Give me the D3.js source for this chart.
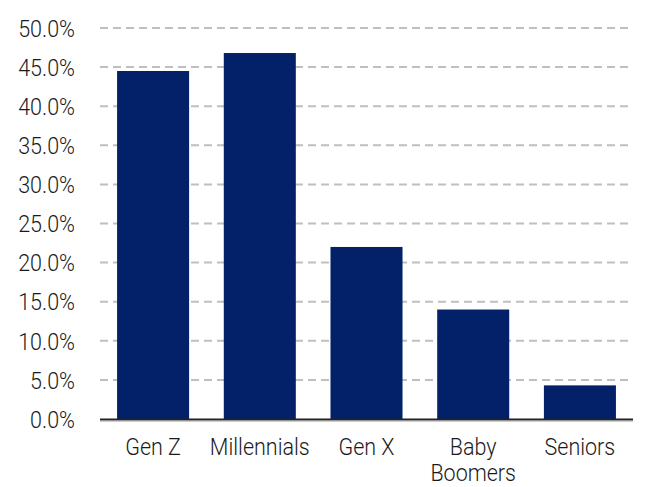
<!DOCTYPE html>
<html><head><meta charset="utf-8">
<script src="https://cdn.jsdelivr.net/npm/d3@7"></script>
<style>body{margin:0;background:#fff}svg{display:block}text{font-family:Roboto,"Liberation Sans",sans-serif;font-weight:300;fill:#1a1a1a}</style>
</head><body><svg id="c" width="646" height="487"></svg>
<script>
const categories = ["Gen Z","Millennials","Gen X","Baby Boomers","Seniors"];
const labelLines = [["Gen Z"],["Millennials"],["Gen X"],["Baby","Boomers"],["Seniors"]];
const values = [44.5, 46.8, 22.0, 14.0, 4.3];
const yTicks = [0,5,10,15,20,25,30,35,40,45,50];

const svg = d3.select("#c");
const m = {l:100, r:13, t:28, b:68};
const W = 646, H = 487;
const SX = 0.935, FS = 23;
const x = d3.scaleBand().domain(categories).range([m.l, W-m.r]).paddingInner(0.325).paddingOuter(0.16);
const y = d3.scaleLinear().domain([0,50]).range([H-m.b, m.t]);

svg.append("g").selectAll("line").data(yTicks.filter(d=>d>0)).join("line")
  .attr("x1", m.l).attr("x2", W-m.r)
  .attr("y1", d=>y(d)).attr("y2", d=>y(d))
  .attr("stroke", "#bfbfbf").attr("stroke-width", 2).attr("stroke-dasharray", "8,5");

svg.append("g").selectAll("rect").data(values).join("rect")
  .attr("x", (d,i)=>x(categories[i])).attr("width", x.bandwidth())
  .attr("y", d=>y(d)).attr("height", d=>y(0)-y(d))
  .attr("fill", "#022169");

svg.append("line").attr("x1", m.l).attr("x2", W-m.r).attr("y1", y(0)+0.5).attr("y2", y(0)+0.5)
  .attr("stroke","#222").attr("stroke-width",2);
svg.append("line").attr("x1", m.l).attr("x2", W-m.r).attr("y1", y(0)+2).attr("y2", y(0)+2)
  .attr("stroke","#999").attr("stroke-width",1);

const yAxis = d3.axisLeft(y).tickValues(yTicks).tickFormat(d=>d.toFixed(1)+"%").tickSize(0).tickPadding(0);
const ya = svg.append("g").attr("transform", `translate(75,0)`).call(yAxis);
ya.select(".domain").remove();
ya.selectAll("text").attr("font-size", FS).attr("font-family", null).attr("fill",null)
  .attr("x", 0).attr("dy","0.36em").attr("transform", `scale(${SX},1)`);

const xl = svg.append("g");
labelLines.forEach((lines,i)=>{
  const cx = x(categories[i])+x.bandwidth()/2;
  const t = xl.append("text").attr("transform", `translate(${cx},455) scale(${SX},1)`)
    .attr("text-anchor","middle").attr("font-size",FS);
  lines.forEach((s,j)=>t.append("tspan").attr("x", 0).attr("dy", j?26:0).text(s));
});
</script></body></html>
